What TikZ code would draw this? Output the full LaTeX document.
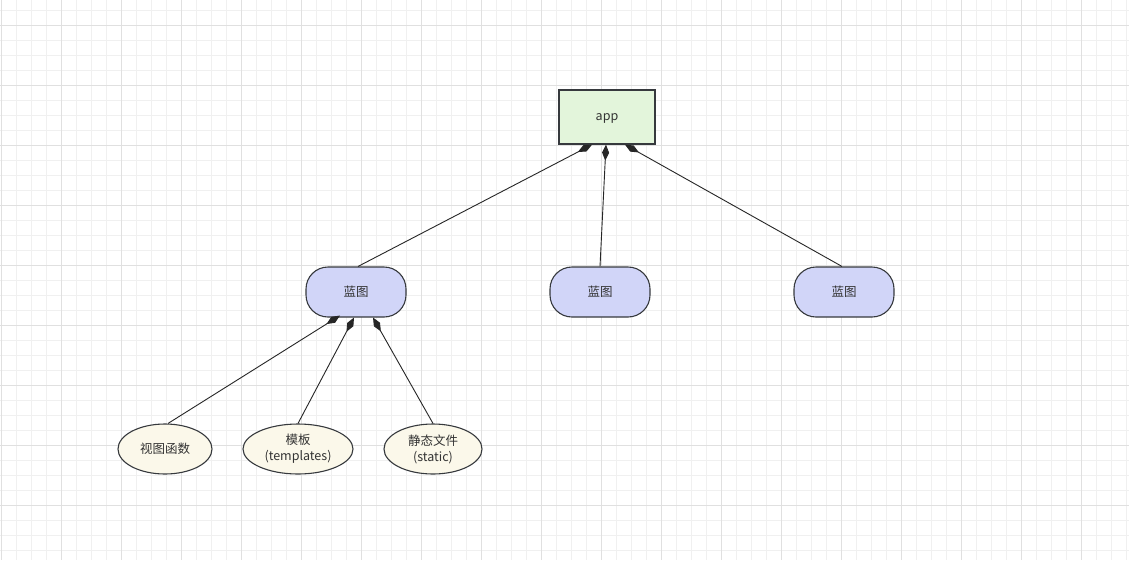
\documentclass[tikz,border=0pt]{standalone}
\usepackage{fontspec}
\setmainfont{Noto Sans CJK SC}
\usepackage{xcolor}
\usetikzlibrary{arrows.meta,shapes.geometric}

\definecolor{minorgrid}{HTML}{F0F0F0}
\definecolor{majorgrid}{HTML}{E0E0E0}
\definecolor{appfill}{HTML}{E3F5DB}
\definecolor{bpfill}{HTML}{D1D5F8}
\definecolor{partfill}{HTML}{FBF8EA}
\definecolor{edge}{HTML}{36393D}
\definecolor{txt}{HTML}{333333}

\tikzset{
    app/.style={draw=edge, line width=1.3pt, fill=appfill, minimum width=96pt, minimum height=54pt, text height=9pt, text depth=3pt},
    bp/.style={draw=edge, line width=1.1pt, fill=bpfill, rounded corners=22pt, minimum width=100pt, minimum height=50pt},
    part/.style={ellipse, draw=edge, line width=1.1pt, fill=partfill, inner sep=0pt, minimum height=50pt, align=center},
    comp/.style={{Diamond[length=16pt,width=7pt]}-, line width=0.9pt, draw=black!85}
}

\begin{document}
\begin{tikzpicture}[x=1pt, y=-1pt, font=\fontsize{12.5}{16}\selectfont, text=txt]
            \useasboundingbox (0,0) rectangle (1129,560);
            \fill[white] (0,0) rectangle (1129,560);
            % grid
            \foreach \x in {1,16,...,1129}{
                    \draw[minorgrid, line width=0.8pt] (\x,0) -- (\x,560);
                }
            \foreach \y in {10,25,...,560}{
                    \draw[minorgrid, line width=0.8pt] (0,\y) -- (1129,\y);
                }
            \foreach \x in {1,61,...,1129}{
                    \draw[majorgrid, line width=0.8pt] (\x,0) -- (\x,560);
                }
            \foreach \y in {25,85,...,560}{
                    \draw[majorgrid, line width=0.8pt] (0,\y) -- (1129,\y);
                }
            % nodes
            \node[app] (app) at (607,117) {app};
            \node[bp] (bpa) at (356,292) {蓝图};
            \node[bp] (bpb) at (600,292) {蓝图};
            \node[bp] (bpc) at (844,292) {蓝图};
            \node[part, minimum width=94pt] (views) at (165,449) {视图函数};
            \node[part, minimum width=110pt] (tmpl) at (298,449) {模板\\(templates)};
            \node[part, minimum width=98pt] (stat) at (433,449) {静态文件\\(static)};
            % connectors
            \draw[comp] ([xshift=-15pt]app.south) -- ([xshift=2pt]bpa.north);
            \draw[comp] ([xshift=-1pt]app.south) -- (bpb.north);
            \draw[comp] ([xshift=18pt]app.south) -- ([xshift=-2pt]bpc.north);
            \draw[comp] ([xshift=-16pt,yshift=2pt]bpa.south) -- ([xshift=3pt]views.north);
            \draw[comp] ([xshift=-2pt]bpa.south) -- (tmpl.north);
            \draw[comp] ([xshift=17pt]bpa.south) -- (stat.north);
        \end{tikzpicture}
\end{document}
